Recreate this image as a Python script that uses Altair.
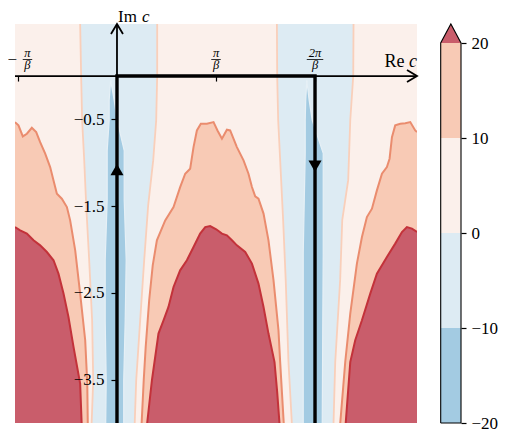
import altair as alt
import pandas as pd

SERIF = "Liberation Serif"

# plot window: Re c in units of pi/beta, Im c
X_MIN, X_MAX = -1.03, 3.03
Y_MIN, Y_MAX = -4.0, 0.6
W, H = 402, 399

# colour bar levels (extend max)
levels = [-20, -10, 0, 10, 20]
band_colors = ["#a3cbe2", "#ddebf3", "#fbf0eb", "#f8cab5"]
over_color = "#c95d6b"
extend_frac = 0.05

# level-0 boundaries of the negative strips near Re c = 0 (A) and Re c = 2pi/beta (B)
stripA_im = [0.6, 0.0, -0.51, -0.97, -1.49, -2.12, -2.82, -3.51, -4.0]
stripA_left = [-0.372, -0.362, -0.352, -0.331, -0.311, -0.281, -0.251, -0.240, -0.256]
stripA_right = [0.406, 0.406, 0.396, 0.366, 0.315, 0.275, 0.234, 0.194, 0.179]

stripB_im = [0.6, 0.0, -0.51, -1.20, -1.66, -2.35, -3.30, -4.0]
stripB_left = [1.615, 1.618, 1.628, 1.658, 1.678, 1.704, 1.732, 1.766]
stripB_right = [2.389, 2.386, 2.356, 2.335, 2.275, 2.254, 2.204, 2.187]

# level -10 cores of the strips
coreA_im = [-0.05, -0.28, -0.51, -0.86, -1.43, -2.12, -2.82, -3.51, -4.0]
coreA_left = [-0.064, -0.079, -0.079, -0.099, -0.099, -0.119, -0.119, -0.109, -0.114]
coreA_right = [-0.064, -0.028, 0.002, 0.073, 0.073, 0.093, 0.083, 0.068, 0.068]

coreB_im = [-0.05, -0.28, -0.51, -0.89, -2.04, -2.93, -4.0]
coreB_left = [1.917, 1.906, 1.901, 1.901, 1.881, 1.881, 1.881]
coreB_right = [1.917, 1.941, 1.972, 2.083, 2.083, 2.078, 2.073]

# level 10 boundaries (hills rising from the bottom)
h10_left_re = [-1.03, -0.995, -0.951, -0.910, -0.860, -0.816, -0.776, -0.725, -0.675, -0.641,
               -0.607, -0.557, -0.506, -0.473, -0.422, -0.372, -0.321, -0.300, -0.295]
h10_left_im = [-0.531, -0.569, -0.696, -0.665, -0.596, -0.646, -0.762, -0.895, -1.050, -1.203,
               -1.356, -1.414, -1.510, -1.664, -2.009, -2.508, -3.046, -3.545, -4.0]
h10_mid_re = [0.249, 0.270, 0.290, 0.325, 0.361, 0.403, 0.487, 0.571, 0.638, 0.689, 0.739, 0.773,
              0.807, 0.847, 0.908, 0.975, 1.015, 1.060, 1.110, 1.143, 1.211, 1.278, 1.328, 1.363,
              1.396, 1.429, 1.480, 1.530, 1.581, 1.631, 1.648, 1.684]
h10_mid_im = [-4.0, -3.507, -3.123, -2.588, -2.182, -1.894, -1.664, -1.510, -1.280, -1.126, -1.068,
              -0.819, -0.627, -0.550, -0.550, -0.531, -0.627, -0.722, -0.619, -0.627, -0.819, -0.972,
              -1.126, -1.280, -1.387, -1.413, -1.586, -1.894, -2.355, -2.931, -3.298, -4.0]
h10_right_re = [2.255, 2.305, 2.356, 2.423, 2.474, 2.524, 2.575, 2.625, 2.676, 2.726, 2.753, 2.777,
                2.810, 2.861, 2.911, 2.962, 3.012, 3.03]
h10_right_im = [-4.0, -3.300, -2.738, -2.162, -1.856, -1.626, -1.529, -1.318, -1.126, -1.050, -0.953,
                -0.704, -0.569, -0.550, -0.543, -0.531, -0.627, -0.646]

# level 20 boundaries
h20_left_re = [-1.03, -0.978, -0.910, -0.843, -0.776, -0.708, -0.641, -0.591, -0.540, -0.490,
               -0.439, -0.372, -0.357]
h20_left_im = [-1.741, -1.779, -1.817, -1.894, -1.952, -2.029, -2.124, -2.278, -2.508, -2.778,
               -3.123, -3.545, -4.0]
h20_mid_re = [0.305, 0.353, 0.419, 0.470, 0.520, 0.571, 0.638, 0.706, 0.773, 0.840, 0.891, 0.941,
              1.002, 1.060, 1.110, 1.161, 1.211, 1.295, 1.363, 1.429, 1.480, 1.530, 1.591, 1.618, 1.641]
h20_mid_im = [-4.0, -3.507, -2.969, -2.816, -2.662, -2.432, -2.240, -2.124, -1.971, -1.817, -1.741,
              -1.729, -1.767, -1.817, -1.836, -1.894, -1.952, -2.029, -2.162, -2.393, -2.662, -2.969,
              -3.298, -3.645, -4.0]
h20_right_re = [2.310, 2.356, 2.406, 2.474, 2.558, 2.625, 2.726, 2.810, 2.878, 2.928, 2.979, 3.03]
h20_right_im = [-4.0, -3.298, -3.046, -2.816, -2.508, -2.278, -2.086, -1.932, -1.798, -1.741,
                -1.759, -1.798]

# integration contour and its direction markers
path_re = [0, 0, 2, 2]
path_im = [-4.0, 0.0, 0.0, -4.0]
arrow_re = [0, 2]
arrow_im = [-1.08, -1.04]
arrow_dir = ["triangle-up", "triangle-down"]

# tick labels
ytick_values = [-0.5, -1.5, -2.5, -3.5]
xtick_values = [-1, 1, 2]
xfrac_num = ["π", "π", "2π"]
xfrac_den = ["β", "β", "β"]
xfrac_sign = ["−", "", ""]

# ---------------- tables ----------------
def strip_df(name, im, left, right):
    return pd.DataFrame({"strip": name, "im": im, "left": left, "right": right})

def edge_df(name, im, left, right):
    return pd.concat([
        pd.DataFrame({"id": name + "L", "im": im, "re": left}),
        pd.DataFrame({"id": name + "R", "im": im, "re": right}),
    ])

def hill_df(parts):
    return pd.concat([pd.DataFrame({"hill": n, "re": r, "im": i}) for n, r, i in parts])

light = pd.concat([strip_df("A", stripA_im, stripA_left, stripA_right),
                   strip_df("B", stripB_im, stripB_left, stripB_right)])
light_edges = pd.concat([edge_df("A", stripA_im, stripA_left, stripA_right),
                         edge_df("B", stripB_im, stripB_left, stripB_right)])
dark = pd.concat([strip_df("A", coreA_im, coreA_left, coreA_right),
                  strip_df("B", coreB_im, coreB_left, coreB_right)])
dark_edges = pd.concat([edge_df("A", coreA_im, coreA_left, coreA_right),
                        edge_df("B", coreB_im, coreB_left, coreB_right)])
h10 = hill_df([("l", h10_left_re, h10_left_im), ("m", h10_mid_re, h10_mid_im),
               ("r", h10_right_re, h10_right_im)])
h20 = hill_df([("l", h20_left_re, h20_left_im), ("m", h20_mid_re, h20_mid_im),
               ("r", h20_right_re, h20_right_im)])
path = pd.DataFrame({"re": path_re, "im": path_im, "k": range(len(path_re))})
arrows = pd.DataFrame({"re": arrow_re, "im": arrow_im, "dir": arrow_dir})

xt = pd.DataFrame({"re": xtick_values, "num": xfrac_num, "den": xfrac_den, "sign": xfrac_sign, "im": 0.0})
xt["barlen"] = xt["num"].str.len() * 7 + 2.5
xt_pos = xt[xt["sign"] == ""]
xt_neg = xt[xt["sign"] != ""]

# ---------------- scales / axes ----------------
xs = alt.Scale(domain=[X_MIN, X_MAX], nice=False, zero=False)
ys = alt.Scale(domain=[Y_MIN, Y_MAX], nice=False, zero=False)
x_axis = alt.Axis(orient="bottom", offset=-H * (0 - Y_MIN) / (Y_MAX - Y_MIN), values=xtick_values,
                  labels=False, tickSize=5, tickColor="black", tickWidth=1.2, zindex=2,
                  domain=False, grid=False, title=None)
y_axis = alt.Axis(orient="left", offset=-W * (0 - X_MIN) / (X_MAX - X_MIN), values=ytick_values,
                  format=".1f", tickSize=6, tickColor="black", tickWidth=1.2, labelFont=SERIF,
                  labelFontSize=17, labelColor="black", labelPadding=7, domain=False, grid=False,
                  title=None, zindex=2)

def X(f):
    return alt.X(f, type="quantitative", scale=xs, axis=x_axis, stack=None)

def Y(f):
    return alt.Y(f, type="quantitative", scale=ys, axis=y_axis, stack=None)

def strip_area(df, color):
    return alt.Chart(df).mark_area(orient="horizontal", color=color, opacity=1, clip=True).encode(
        y=Y("im"), x=X("left"), x2=alt.X2("right:Q"), detail="strip:N")

def edge_lines(df, color, width):
    return alt.Chart(df).mark_line(color=color, strokeWidth=width, clip=True).encode(
        x=X("re"), y=Y("im"), detail="id:N", order=alt.Order("im:Q"))

def hill_area(df, color, line_color):
    return alt.Chart(df).mark_area(color=color, opacity=1, clip=True,
                                   line={"color": line_color, "strokeWidth": 2}).encode(
        x=X("re"), y=Y("im"), y2=alt.datum(Y_MIN), detail="hill:N")

layers = [
    strip_area(light, band_colors[1]),
    strip_area(dark, band_colors[0]),
    edge_lines(dark_edges, "#e6f0f6", 1.2),
    edge_lines(light_edges, "#f9cfba", 1.8),
    hill_area(h10, band_colors[3], "#ea8c6e"),
    hill_area(h20, over_color, "#c3323a"),
]

# coordinate axes with arrow heads
axes_h = pd.DataFrame({"x0": [X_MIN], "x1": [X_MAX], "y0": [0.0]})
axes_v = pd.DataFrame({"x0": [0.0], "y0": [Y_MIN], "y1": [Y_MAX]})
layers += [
    alt.Chart(path).mark_line(color="black", strokeWidth=3.4, strokeJoin="miter").encode(
        x=X("re"), y=Y("im"), order=alt.Order("k:Q")),
    alt.Chart(axes_h).mark_rule(color="black", strokeWidth=1.8).encode(
        x=X("x0"), x2=alt.X2("x1:Q"), y=Y("y0")),
    alt.Chart(axes_v).mark_rule(color="black", strokeWidth=1.8).encode(
        x=X("x0"), y=Y("y0"), y2=alt.Y2("y1:Q")),
    alt.Chart(axes_h).mark_point(shape="M-1,-0.6L0,0L-1,0.6", size=400, filled=False,
                                 color="black", strokeWidth=1.8, opacity=1).encode(
        x=X("x1"), y=Y("y0")),
    alt.Chart(axes_v).mark_point(shape="M-0.6,1L0,0L0.6,1", size=400, filled=False,
                                 color="black", strokeWidth=1.8, opacity=1).encode(
        x=X("x0"), y=Y("y1")),
    alt.Chart(arrows).mark_point(filled=True, color="black", size=170, opacity=1).encode(
        x=X("re"), y=Y("im"), shape=alt.Shape("dir:N", scale=None)),
]

# axis titles
layers += [
    alt.Chart(axes_v).mark_text(text="Im", font=SERIF, fontSize=17, align="left",
                                baseline="alphabetic", dx=1, dy=-2.5, color="black").encode(
        x=X("x0"), y=Y("y1")),
    alt.Chart(axes_v).mark_text(text="c", font=SERIF, fontSize=17, fontStyle="italic", align="left",
                                baseline="alphabetic", dx=25, dy=-2.5, color="black").encode(
        x=X("x0"), y=Y("y1")),
    alt.Chart(axes_h).mark_text(text="Re", font=SERIF, fontSize=18, align="right",
                                baseline="alphabetic", dx=-12.5, dy=-9, color="black").encode(
        x=X("x1"), y=Y("y0")),
    alt.Chart(axes_h).mark_text(text="c", font=SERIF, fontSize=18, fontStyle="italic", align="right",
                                baseline="alphabetic", dx=0, dy=-9, color="black").encode(
        x=X("x1"), y=Y("y0")),
]

# fraction tick labels
def frac_layers(df, shift):
    return [
        alt.Chart(df).mark_text(font=SERIF, fontSize=12.5, fontStyle="italic", align="center",
                                baseline="alphabetic", dx=shift, dy=-19.5, color="black").encode(
            x=X("re"), y=Y("im"), text="num:N"),
        alt.Chart(df).mark_text(font=SERIF, fontSize=12.5, fontStyle="italic", align="center",
                                baseline="alphabetic", dx=shift, dy=-6.8, color="black").encode(
            x=X("re"), y=Y("im"), text="den:N"),
        alt.Chart(df).mark_tick(orient="horizontal", thickness=0.8, color="black", opacity=1,
                                xOffset=shift, yOffset=-16.6).encode(
            x=X("re"), y=Y("im"), size=alt.Size("barlen:Q", scale=None)),
    ]

layers += frac_layers(xt_pos, 0)
layers += frac_layers(xt_neg, 9.5)
layers.append(
    alt.Chart(xt_neg).mark_text(font=SERIF, fontSize=17, align="center", baseline="middle",
                                dx=-5.6, dy=-15.6, color="black").encode(
        x=X("re"), y=Y("im"), text="sign:N"))

main = alt.layer(*layers)

# ---------------- colour bar ----------------
CB_X0, CB_X1 = W + 23.7, W + 44
tip = levels[-1] + extend_frac * (levels[-1] - levels[0])
cbx = alt.Scale(domain=[0, 1], range=[CB_X0, CB_X1])
cby = alt.Scale(domain=[levels[0], tip], nice=False, zero=False)
cb_axis = alt.Axis(orient="right", offset=CB_X1 - W, values=levels, tickSize=5, tickColor="black",
                   tickWidth=1.2, labelFont=SERIF, labelFontSize=17, labelColor="black",
                   labelPadding=5, domain=False, grid=False, title=None, zindex=2)

def CX(f):
    return alt.X(f, type="quantitative", scale=cbx, axis=None)

def CY(f):
    return alt.Y(f, type="quantitative", scale=cby, axis=cb_axis, stack=None)

bands = pd.DataFrame({"lo": levels[:-1], "hi": levels[1:], "col": band_colors, "x0": 0.0, "x1": 1.0})
tri = pd.DataFrame({"cx": [0.0, 0.5, 1.0], "cy": [levels[-1], tip, levels[-1]]})
outline = pd.DataFrame({
    "cx": [0.0, 1.0, 1.0, 0.5, 0.0, 0.0],
    "cy": [levels[0], levels[0], levels[-1], tip, levels[-1], levels[0]],
    "k": range(6),
})

cbar = alt.layer(
    alt.Chart(bands).mark_rect(opacity=1).encode(
        x=CX("x0"), x2=alt.X2("x1:Q"), y=CY("lo"), y2=alt.Y2("hi:Q"),
        color=alt.Color("col:N", scale=None)),
    alt.Chart(tri).mark_area(color=over_color, opacity=1).encode(
        x=CX("cx"), y=CY("cy"), y2=alt.datum(levels[-1])),
    alt.Chart(outline).mark_line(color="black", strokeWidth=1.1, strokeJoin="miter").encode(
        x=CX("cx"), y=CY("cy"), order=alt.Order("k:Q")),
)

chart = alt.layer(main, cbar).resolve_scale(x="independent", y="independent").properties(
    width=W, height=H,
    autosize=alt.AutoSizeParams(type="none"),
    padding={"left": 7, "top": 16, "right": 82, "bottom": 8},
).configure_view(fill=band_colors[2], strokeWidth=0)

chart.save("out.html", embed_options={"renderer": "svg", "actions": False})
